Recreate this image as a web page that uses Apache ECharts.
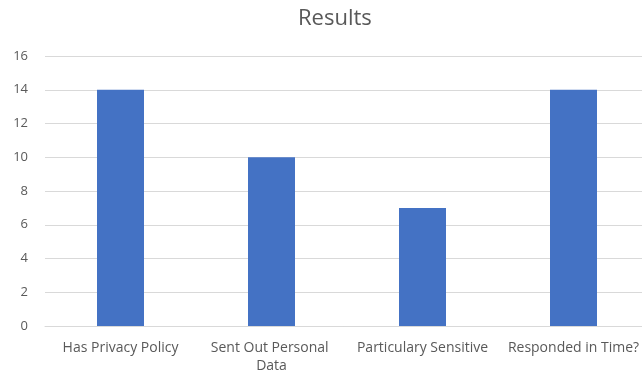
<!DOCTYPE html>
<html>
<head>
<meta charset="utf-8">
<script src="https://cdn.jsdelivr.net/npm/echarts@6/dist/echarts.min.js"></script>
<style>
  html, body { margin: 0; padding: 0; background: #fff; }
  #chart { width: 642px; height: 375px; }
</style>
</head>
<body>
<div id="chart"></div>
<script>
var categories = ['Has Privacy Policy', 'Sent Out Personal Data', 'Particulary Sensitive', 'Responded in Time?']
var values = [14, 10, 7, 14]
var yTicks = { min: 0, max: 16, interval: 2 }

var font = '"Open Sans", "Liberation Sans", sans-serif'
var chart = echarts.init(document.getElementById('chart'))
chart.setOption({
  animation: false,
  title: {
    text: 'Results',
    left: 293,
    top: 3,
    textStyle: { fontFamily: font, fontSize: 22, fontWeight: 'normal', color: '#595959' }
  },
  grid: { left: 45, width: 604, top: 56, bottom: 49, outerBoundsMode: 'none', containLabel: false },
  xAxis: {
    type: 'category',
    data: categories,
    axisLine: { lineStyle: { color: '#d9d9d9' } },
    axisTick: { show: false },
    axisLabel: {
      interval: 0,
      color: '#595959',
      fontFamily: font,
      fontSize: 14,
      margin: 13,
      lineHeight: 18,
      width: 150,
      overflow: 'break'
    }
  },
  yAxis: {
    type: 'value',
    min: yTicks.min,
    max: yTicks.max,
    interval: yTicks.interval,
    axisLabel: { color: '#595959', fontFamily: font, fontSize: 13, margin: 17 },
    splitLine: { lineStyle: { color: '#d9d9d9' } },
    axisLine: { show: false },
    axisTick: { show: false }
  },
  series: [{
    type: 'bar',
    data: values,
    barWidth: 47,
    itemStyle: { color: '#4472c4' }
  }]
})
</script>
</body>
</html>
